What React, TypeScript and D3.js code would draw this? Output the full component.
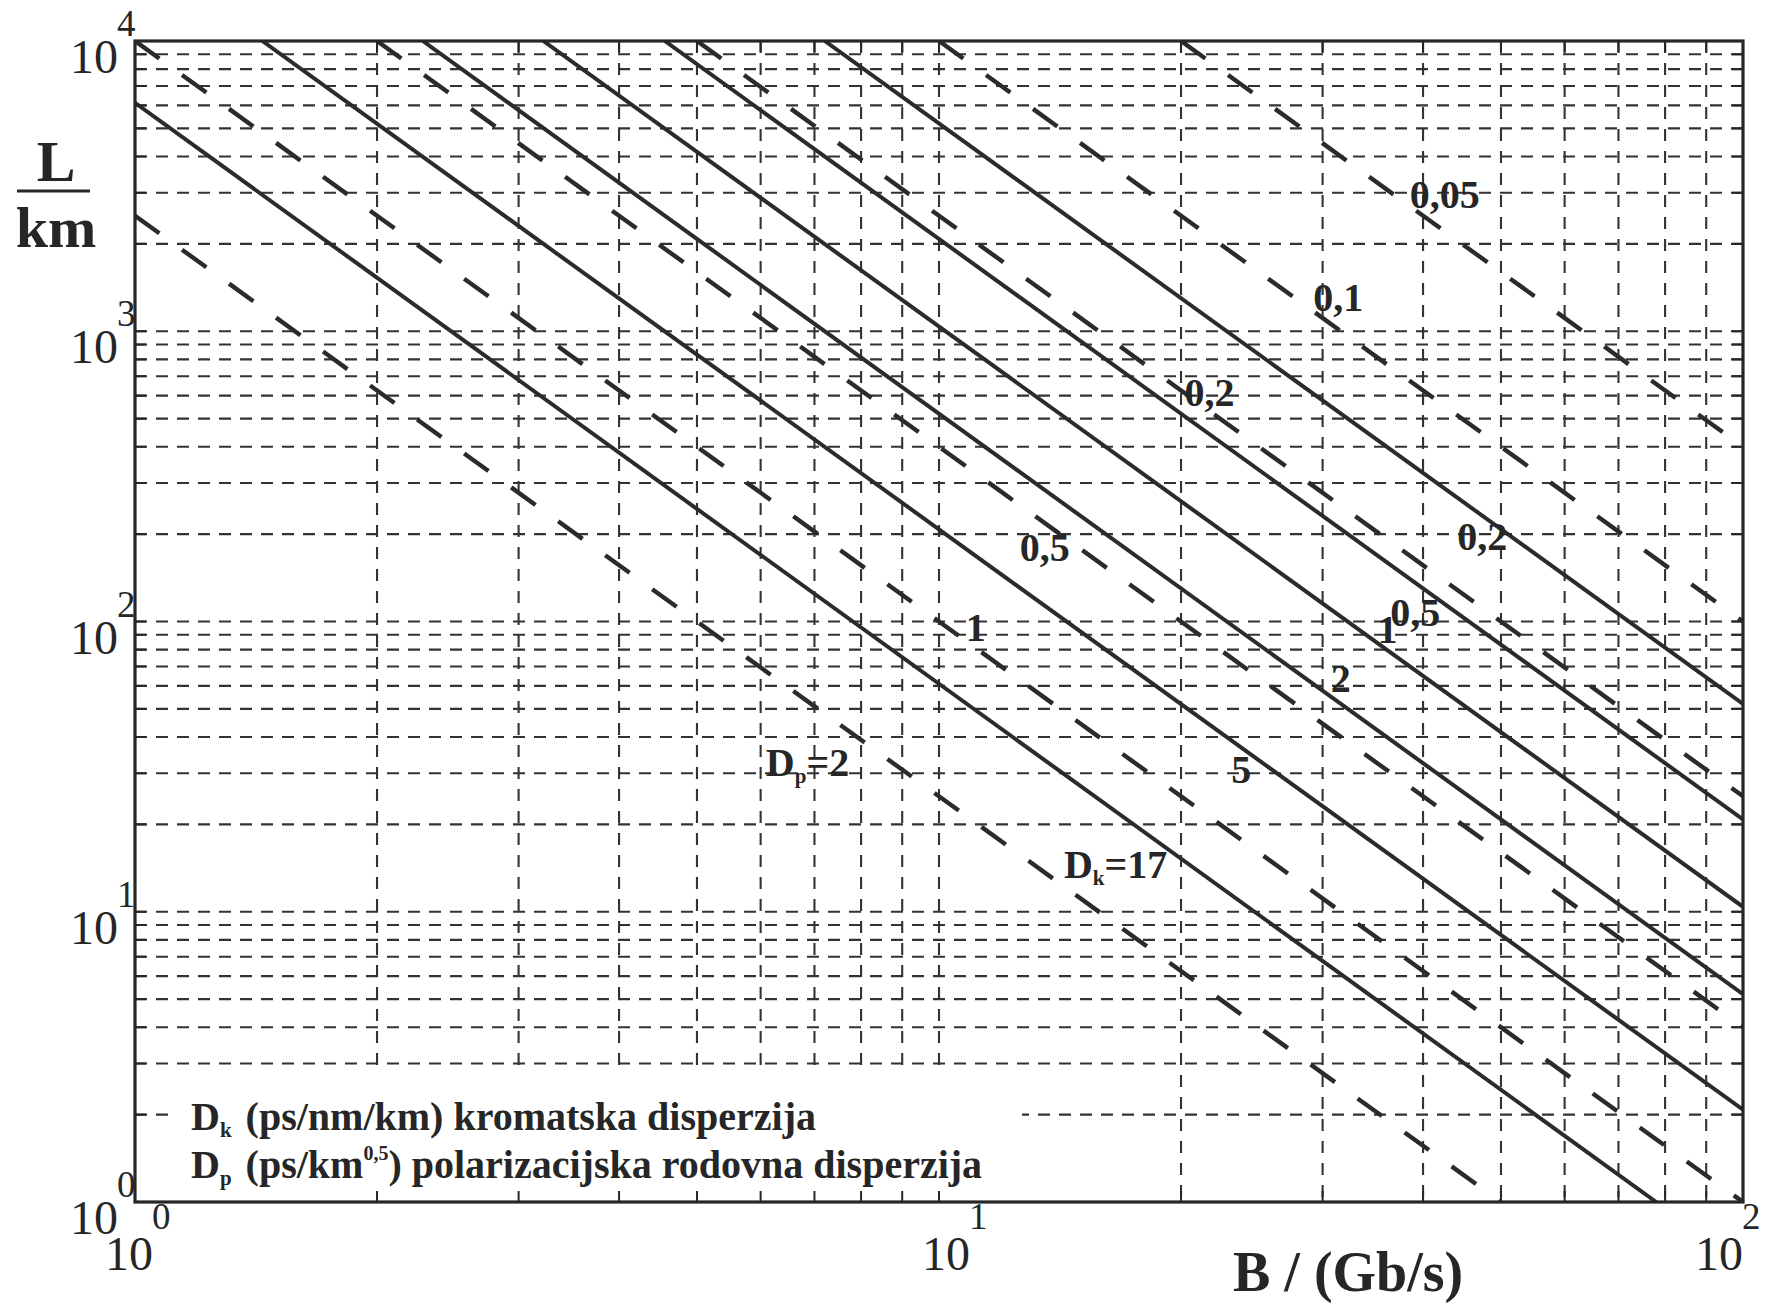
import * as d3 from "d3";

// axis decades
const xDecades = [1, 10, 100];
const xExponents = ["0", "1", "2"];
const yDecades = [1, 10, 100, 1000, 10000];
const yExponents = ["0", "1", "2", "3", "4"];

// chromatic dispersion Dk (ps/nm/km), solid lines, end points (B in Gb/s, L in km)
const dkLabels = ["17", "5", "2", "1", "0,5", "0,2"];
const dkStartB = [1, 1.44, 2.28, 3.22, 4.56, 7.21];
const dkStartL = [6120, 10000, 10000, 10000, 10000, 10000];
const dkEndB = [78, 100, 100, 100, 100, 100];
const dkEndL = [1, 2.08, 5.2, 10.4, 20.8, 52];

// polarization mode dispersion Dp (ps/km^0.5), dashed lines
const dpLabels = ["2", "1", "0,5", "0,2", "0,1", "0,05"];
const dpStartB = [1, 1, 2, 5, 10, 20];
const dpStartL = [2500, 10000, 10000, 10000, 10000, 10000];
const dpEndB = [50, 100, 100, 100, 100, 100];
const dpEndL = [1, 1, 4, 25, 100, 400];

// where the line labels sit, in data units
const dkLabelAt = [[14.3, 13.1], [23.1, 27.8], [30.7, 57.2], [35.1, 84.3], [36.4, 96.5], [44.1, 176]];
const dpLabelAt = [[6.09, 29.4], [10.8, 85.7], [12.6, 161], [20.2, 553], [29.2, 1175], [38.5, 2660]];

const ink = "#262626";
const serif = "'Liberation Serif', 'Times New Roman', serif";

export default function App() {
  const W = 1766;
  const H = 1303;
  const left = 135, right = 1743, top = 41, bottom = 1202;

  const x = d3.scaleLog().domain([1, 100]).range([left, right]);
  const y = d3.scaleLog().domain([1, 10000]).range([bottom, top]);
  const line = d3.line<[number, number]>().x((d) => x(d[0])).y((d) => y(d[1]));

  const xGrid = x.ticks().filter((v) => v > 1 && v < 100);
  const yGrid = y.ticks().filter((v) => v > 1 && v < 10000);

  const dkPaths = dkLabels.map((_, i) =>
    line([[dkStartB[i], dkStartL[i]], [dkEndB[i], dkEndL[i]]])
  );
  const dpPaths = dpLabels.map((_, i) =>
    line([[dpStartB[i], dpStartL[i]], [dpEndB[i], dpEndL[i]]])
  );

  const tick = 11;
  // horizontal offset of the "10" of each x tick label, from its tick
  const xLabelShift = [-6, 7, -24];

  return (
    <svg
      width={W}
      height={H}
      style={{ position: "absolute", left: 0, top: 0, background: "#fff" }}
      fontFamily={serif}
    >
      <defs>
        <clipPath id="plot">
          <rect x={left} y={top} width={right - left} height={bottom - top} />
        </clipPath>
      </defs>

      {/* grid */}
      <g stroke="#333" strokeWidth={2.1} fill="none">
        {yGrid.map((v) => (
          <line key={"h" + v} x1={left} x2={right} y1={y(v)} y2={y(v)} strokeDasharray="12 9" />
        ))}
        {xGrid.map((v) => (
          <line key={"v" + v} x1={x(v)} x2={x(v)} y1={top} y2={bottom} strokeDasharray="12 10" />
        ))}
      </g>

      {/* curves */}
      <g clipPath="url(#plot)" fill="none" stroke="#2b2b2b" strokeLinecap="butt">
        {dkPaths.map((d, i) => (
          <path key={"dk" + i} d={d || ""} strokeWidth={4} />
        ))}
        {dpPaths.map((d, i) => (
          <path key={"dp" + i} d={d || ""} strokeWidth={4.4} strokeDasharray="30 28" />
        ))}
      </g>

      {/* legend box */}
      <rect x={168} y={1072} width={854} height={bottom - 1072} fill="#fff" />

      {/* ticks */}
      <g stroke={ink} strokeWidth={2}>
        {xGrid.map((v) => (
          <g key={"tx" + v}>
            <line x1={x(v)} x2={x(v)} y1={bottom} y2={bottom - tick} />
            <line x1={x(v)} x2={x(v)} y1={top} y2={top + tick} />
          </g>
        ))}
        {yGrid.map((v) => (
          <g key={"ty" + v}>
            <line x1={left} x2={left + tick} y1={y(v)} y2={y(v)} />
            <line x1={right} x2={right - tick} y1={y(v)} y2={y(v)} />
          </g>
        ))}
      </g>

      {/* frame */}
      <rect x={left} y={top} width={right - left} height={bottom - top} fill="none" stroke={ink} strokeWidth={3.2} />

      {/* tick labels */}
      <g fill={ink}>
        {yDecades.map((v, i) => (
          <g key={"yl" + v}>
            <text x={118} y={y(v) + 32} fontSize={48} textAnchor="end">10</text>
            <text x={117} y={y(v) - 5} fontSize={37}>{yExponents[i]}</text>
          </g>
        ))}
        {xDecades.map((v, i) => (
          <g key={"xl" + v}>
            <text x={x(v) + xLabelShift[i]} y={1270} fontSize={48} textAnchor="middle">10</text>
            <text x={x(v) + xLabelShift[i] + 23} y={1229} fontSize={37}>{xExponents[i]}</text>
          </g>
        ))}
      </g>

      {/* axis titles */}
      <g fill={ink} fontWeight="bold">
        <text x={56} y={181} fontSize={58} textAnchor="middle">L</text>
        <line x1={17} x2={90} y1={191} y2={191} stroke={ink} strokeWidth={3} />
        <text x={56} y={247} fontSize={58} textAnchor="middle">km</text>
        <text x={1233} y={1291} fontSize={56}>B / (Gb/s)</text>
      </g>

      {/* line labels */}
      <g fill={ink} fontWeight="bold" fontSize={40}>
        {dkLabels.map((t, i) => {
          const px = x(dkLabelAt[i][0]);
          const py = y(dkLabelAt[i][1]);
          return i === 0 ? (
            <text key={"dkl" + i} x={px} y={py}>
              D<tspan fontSize={21} dy={7}>k</tspan>
              <tspan dy={-7}>={t}</tspan>
            </text>
          ) : (
            <text key={"dkl" + i} x={px} y={py}>{t}</text>
          );
        })}
        {dpLabels.map((t, i) => {
          const px = x(dpLabelAt[i][0]);
          const py = y(dpLabelAt[i][1]);
          return i === 0 ? (
            <text key={"dpl" + i} x={px} y={py}>
              D<tspan fontSize={21} dy={7}>p</tspan>
              <tspan dy={-7}>={t}</tspan>
            </text>
          ) : (
            <text key={"dpl" + i} x={px} y={py}>{t}</text>
          );
        })}
      </g>

      {/* legend */}
      <g fill={ink} fontWeight="bold" fontSize={40}>
        <text x={191} y={1130}>
          D<tspan fontSize={21} dy={7}>k</tspan>
          <tspan dy={-7} dx={14}>(ps/nm/km) kromatska disperzija</tspan>
        </text>
        <text x={191} y={1178}>
          D<tspan fontSize={21} dy={7}>p</tspan>
          <tspan dy={-7} dx={14}>(ps/km</tspan>
          <tspan fontSize={20} dy={-18}>0,5</tspan>
          <tspan dy={18}>) polarizacijska rodovna disperzija</tspan>
        </text>
      </g>
    </svg>
  );
}
